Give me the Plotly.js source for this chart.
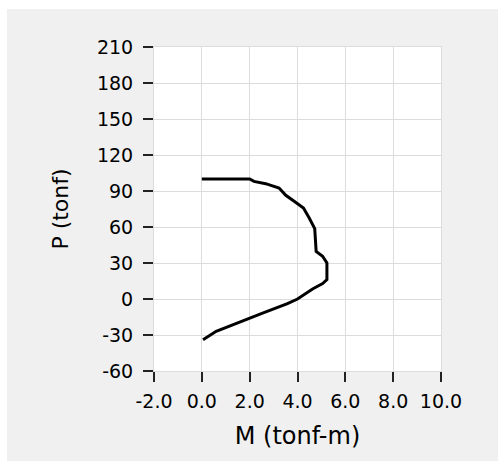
<!DOCTYPE html>
<html>
<head>
<meta charset="utf-8">
<script src="https://cdn.plot.ly/plotly-3.0.1.min.js"></script>
<style>
html,body{margin:0;padding:0;background:#ffffff;}
#chart{width:498px;height:461px;}
</style>
</head>
<body>
<div id="chart"></div>
<script>
// Interaction diagram: moment M (tonf-m) vs axial load P (tonf)
const momentM = [0.0, 2.0, 2.18, 2.67, 3.23, 3.51, 3.86, 4.25, 4.49, 4.72, 4.78, 5.05, 5.23, 5.23, 5.05, 4.63, 4.0, 3.58, 2.54, 1.57, 0.6, 0.05];
const axialP  = [100, 100, 98, 96.1, 92.5, 86.4, 81.4, 75.8, 67.5, 58.6, 39.7, 35.6, 30, 16.1, 12.8, 8.3, 0, -3.9, -11.7, -19.4, -26.9, -34];
const xTicks = [-2, 0, 2, 4, 6, 8, 10];
const yTicks = [-60, -30, 0, 30, 60, 90, 120, 150, 180, 210];

const font = "DejaVu Sans, Liberation Sans, Arial, sans-serif";
const gridColor = "#dcdcdc";

const trace = {
  x: momentM, y: axialP, type: "scatter", mode: "lines",
  line: {color: "#000000", width: 3},
  hoverinfo: "skip", showlegend: false
};

const layout = {
  width: 498, height: 461,
  margin: {l: 154, r: 57, t: 47, b: 90},
  paper_bgcolor: "#f0f0f0",
  plot_bgcolor: "#ffffff",
  font: {family: font, color: "#000000"},
  xaxis: {
    range: [-2, 10], tickvals: xTicks, ticktext: xTicks.map(v => v.toFixed(1)),
    showgrid: true, gridcolor: gridColor, gridwidth: 1,
    zeroline: false, showline: true, linecolor: gridColor, linewidth: 1, mirror: true,
    ticks: "outside", ticklen: 10, tickwidth: 2, tickcolor: "#222222",
    ticklabelstandoff: 3,
    tickfont: {size: 19, family: font, color: "#000000"},
    title: {text: "M (tonf-m)", font: {size: 24, family: font, color: "#000000"}, standoff: 16},
    fixedrange: true
  },
  yaxis: {
    range: [-60, 210], tickvals: yTicks, ticktext: yTicks.map(v => String(v)),
    showgrid: true, gridcolor: gridColor, gridwidth: 1,
    zeroline: false, showline: true, linecolor: gridColor, linewidth: 1, mirror: true,
    ticks: "outside", ticklen: 10, tickwidth: 2, tickcolor: "#222222",
    ticklabelstandoff: 6,
    tickfont: {size: 19, family: font, color: "#000000"},
    title: {text: "P (tonf)", font: {size: 22, family: font, color: "#000000"}, standoff: 22},
    fixedrange: true
  },
  shapes: [
    {type: "rect", xref: "paper", yref: "paper", x0: -0.6, x1: (7 - 154) / 287, y0: -0.4, y1: 1.3,
     fillcolor: "#ffffff", line: {width: 0}, layer: "above"},
    {type: "rect", xref: "paper", yref: "paper", x0: -0.6, x1: 1.3, y0: (371 - 9) / 324, y1: 1.3,
     fillcolor: "#ffffff", line: {width: 0}, layer: "above"}
  ]
};

Plotly.newPlot("chart", [trace], layout, {displayModeBar: false, staticPlot: true});
</script>
</body>
</html>
